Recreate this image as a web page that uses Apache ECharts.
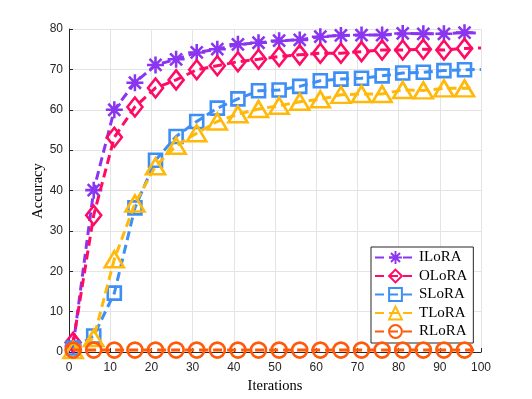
<!DOCTYPE html>
<html>
<head>
<meta charset="utf-8">
<script src="https://cdn.jsdelivr.net/npm/echarts@6/dist/echarts.min.js"></script>
<style>html,body{margin:0;padding:0;background:#fff}#c{width:532px;height:399px}</style>
</head>
<body>
<div id="c"></div>
<script>
const iterations = [1,6,11,16,21,26,31,36,41,46,51,56,61,66,71,76,81,86,91,96];
const seriesNames = ['ILoRA','OLoRA','SLoRA','TLoRA','RLoRA'];
const ILoRA = [1.5,40.1,60,66.7,71.1,72.5,74.2,75,76.2,76.6,77.1,77.3,78.1,78.4,78.5,78.5,78.9,78.8,78.8,79.1];
const OLoRA = [2.4,33.9,53.2,60.7,65.4,67.4,69.9,70.9,71.9,72.5,73.2,73.6,74,74,74.4,74.8,74.8,75,74.8,75.2];
const SLoRA = [1,4,14.6,35.7,47.5,53.4,57.1,60.4,62.7,64.7,64.9,65.8,67.2,67.6,67.8,68.4,69.1,69.3,69.7,69.9];
const TLoRA = [0.5,3.5,23,36.8,46,51.1,54.2,57.1,58.9,60.2,61,62,62.6,63.7,63.9,63.9,64.9,64.8,65.3,65.3];
const RLoRA = [0.5,0.5,0.5,0.5,0.5,0.5,0.5,0.5,0.5,0.5,0.5,0.5,0.5,0.5,0.5,0.5,0.5,0.5,0.5,0.5];
// trailing line end (no marker)
const endIter = [99, 100, 100, 98, 99.5];
const endVal = [79, 75.3, 70, 65.3, 0.5];
const xTitle = 'Iterations';
const yTitle = 'Accuracy';

const allVals = [ILoRA, OLoRA, SLoRA, TLoRA, RLoRA];
const colors = ['#8a35f0', '#ff0a64', '#3d8ef5', '#ffb90a', '#ff5a0a'];
const asterisk = 'path://M-1.5,-10L1.5,-10L1.5,10L-1.5,10Z M-10,-1.5L10,-1.5L10,1.5L-10,1.5Z M-8.13,-6.01L-6.01,-8.13L8.13,6.01L6.01,8.13Z M6.01,-8.13L8.13,-6.01L-6.01,8.13L-8.13,6.01Z';
const symbols = [asterisk, 'diamond', 'rect', 'triangle', 'circle'];
const sizes = [17, [15,19], 13, [19,16], 15];

const chart = echarts.init(document.getElementById('c'), null, {renderer:'canvas'});
const series = seriesNames.map((name, k) => {
  const data = iterations.map((x, i) => [x, allVals[k][i]]);
  data.push({value: [endIter[k], endVal[k]], symbol: 'none'});
  const hollow = k > 0;
  return {
    name, type: 'line', data,
    symbol: symbols[k], symbolSize: sizes[k], showAllSymbol: true,
    clip: false,
    lineStyle: {color: colors[k], width: 3, type: [9, 5]},
    itemStyle: hollow ? {color: 'rgba(255,255,255,0)', borderColor: colors[k], borderWidth: 2.6}
                      : {color: colors[k], borderWidth: 0},
    emphasis: {disabled: true},
    animation: false, z: 2 + k
  };
});

chart.setOption({
  animation: false,
  grid: {left: 69, right: 51, top: 29, bottom: 46, containLabel: false},
  xAxis: {
    type: 'value', min: 0, max: 100, interval: 10,
    name: xTitle, nameLocation: 'middle', nameGap: 26,
    nameTextStyle: {fontFamily: 'Liberation Serif', fontSize: 14.5, color: '#000'},
    axisLine: {show: true, onZero: false, lineStyle: {color: '#262626', width: 1}},
    axisTick: {show: true, inside: true, length: 4, lineStyle: {color: '#262626'}},
    axisLabel: {fontFamily: 'Liberation Sans', fontSize: 12, color: '#262626', margin: 10},
    splitLine: {show: true, lineStyle: {color: '#e4e4e4', width: 1}}
  },
  yAxis: {
    type: 'value', min: 0, max: 80, interval: 10,
    axisLine: {show: true, lineStyle: {color: '#262626', width: 1}},
    axisTick: {show: true, inside: true, length: 4, lineStyle: {color: '#262626'}},
    axisLabel: {fontFamily: 'Liberation Sans', fontSize: 12, color: '#262626', margin: 6},
    splitLine: {show: true, lineStyle: {color: '#e4e4e4', width: 1}}
  },
  graphic: [{
    type: 'text', x: 38, y: 191, rotation: Math.PI / 2,
    style: {text: yTitle, fontFamily: 'Liberation Serif', fontSize: 14.5, fill: '#000',
            align: 'center', verticalAlign: 'middle'}
  }],
  legend: {
    orient: 'vertical', left: 371, top: 247,
    backgroundColor: '#fff', borderColor: '#262626', borderWidth: 1,
    padding: [3, 6, 4, 3], itemGap: 3.5, itemWidth: 41, itemHeight: 16,
    textStyle: {fontFamily: 'Liberation Serif', fontSize: 15, color: '#000', padding: [0,0,0,-2]},
    data: seriesNames
  },
  series
});
</script>
</body>
</html>
